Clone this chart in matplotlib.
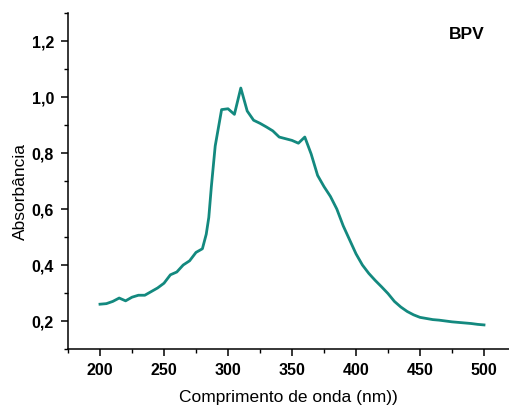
import matplotlib
matplotlib.use('Agg')
import matplotlib.pyplot as plt
from matplotlib.ticker import MultipleLocator, FuncFormatter

plt.rcParams['font.family'] = ['Liberation Sans', 'DejaVu Sans']

### UV-Vis spectrum values
wavelength = [200, 205, 210, 215, 220, 225, 230, 235, 240, 245, 250, 255, 260, 265,
              270, 275, 280, 283, 285, 287, 290, 295, 300, 305, 310, 315, 320, 325,
              330, 335, 340, 345, 350, 355, 360, 365, 370, 375, 380, 385, 390, 395,
              400, 405, 410, 415, 420, 425, 430, 435, 440, 445, 450, 455, 460, 465,
              470, 475, 480, 485, 490, 495, 500]
absorbance = [0.260, 0.262, 0.270, 0.282, 0.272, 0.285, 0.292, 0.292, 0.305, 0.318,
              0.335, 0.365, 0.375, 0.400, 0.415, 0.445, 0.458, 0.510, 0.570, 0.680,
              0.825, 0.955, 0.958, 0.938, 1.032, 0.950, 0.917, 0.906, 0.893, 0.879,
              0.857, 0.851, 0.845, 0.835, 0.857, 0.796, 0.720, 0.680, 0.645, 0.600,
              0.540, 0.490, 0.440, 0.400, 0.370, 0.345, 0.322, 0.298, 0.270, 0.250,
              0.234, 0.222, 0.213, 0.209, 0.205, 0.203, 0.200, 0.197, 0.195, 0.193,
              0.191, 0.188, 0.186]
sample_label = 'BPV'

fig = plt.figure(figsize=(5.10, 4.07), dpi=100)
ax = fig.add_axes([68/510, 58/407, 441.6/510, 336/407])

ax.plot(wavelength, absorbance, color='#13897f', linewidth=2.0)

ax.set_xlim(175, 520)
ax.set_ylim(0.1, 1.3)
ax.xaxis.set_major_locator(MultipleLocator(50))
ax.xaxis.set_minor_locator(MultipleLocator(25))
ax.yaxis.set_major_locator(MultipleLocator(0.2))
ax.yaxis.set_minor_locator(MultipleLocator(0.1))
ax.yaxis.set_major_formatter(FuncFormatter(lambda v, p: ('%.1f' % v).replace('.', ',')))

ax.spines['top'].set_visible(False)
ax.spines['right'].set_visible(False)
for s in ['left', 'bottom']:
    ax.spines[s].set_linewidth(1.1)
ax.tick_params(which='major', direction='out', length=5, width=1.1, pad=5)
ax.tick_params(which='minor', direction='out', length=3, width=1.0)
for lab in ax.get_xticklabels() + ax.get_yticklabels():
    lab.set_fontsize(11.5)
    lab.set_fontweight('bold')

ax.set_xlabel('Comprimento de onda (nm))', fontsize=12.5, labelpad=9)
ax.set_ylabel('Absorbância', fontsize=12.5)
ax.yaxis.set_label_coords(-0.09, 0.47)

# label placed in axes fraction so it sits in the top right corner
ax.text(0.904, 0.936, sample_label, fontsize=12.5, fontweight='bold',
        ha='center', va='center', transform=ax.transAxes)

plt.savefig('out.png', dpi=100)
